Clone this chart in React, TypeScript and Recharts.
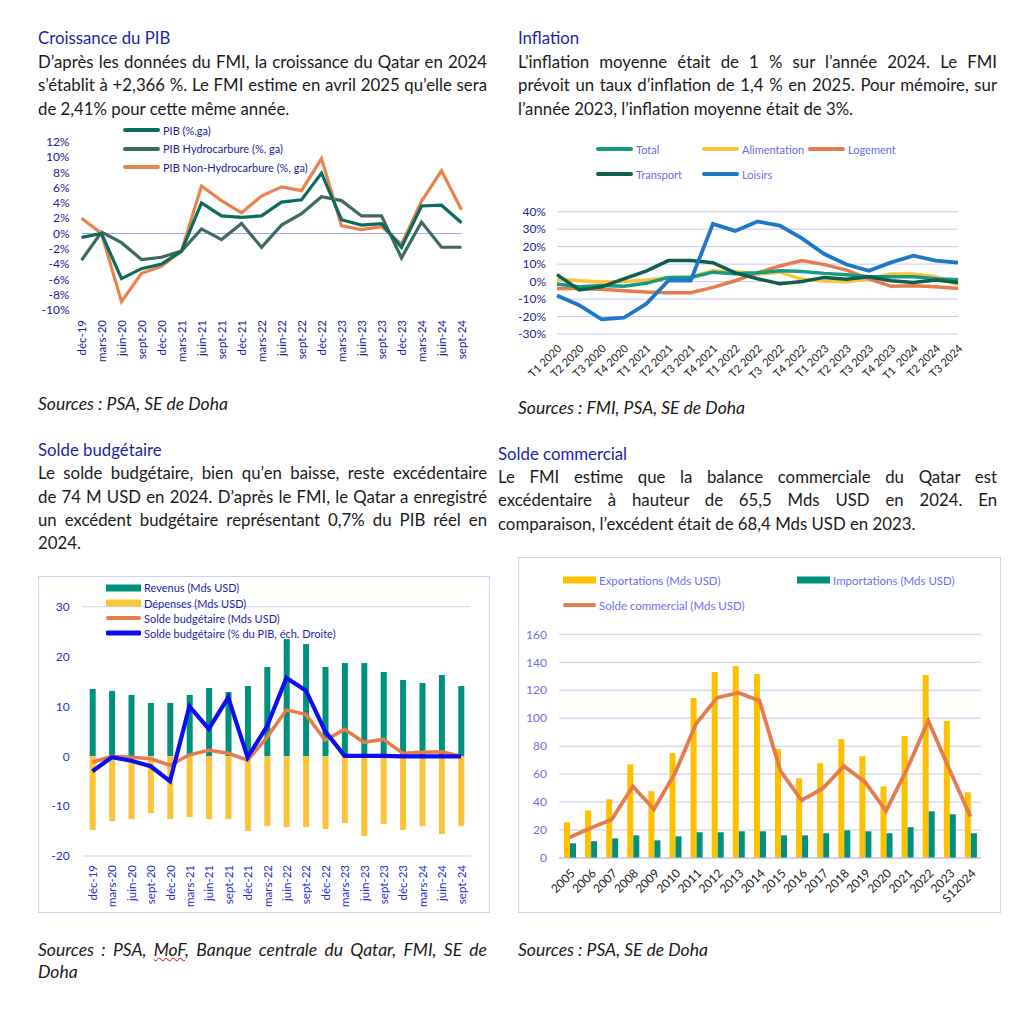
import React from 'react';
import { LineChart, Line, XAxis, YAxis, CartesianGrid, ReferenceLine, ComposedChart, Bar } from 'recharts';

const FONT = 'Lato, "Noto Sans", sans-serif';

// Croissance du PIB (% ga)
const pibQuarters = ['déc-19', 'mars-20', 'juin-20', 'sept-20', 'déc-20', 'mars-21', 'juin-21', 'sept-21', 'déc-21', 'mars-22', 'juin-22', 'sept-22', 'déc-22', 'mars-23', 'juin-23', 'sept-23', 'déc-23', 'mars-24', 'juin-24', 'sept-24'];
const pibTotal = [-0.5, 0, -5.9, -4.6, -4.0, -2.3, 4.0, 2.3, 2.1, 2.3, 4.1, 4.4, 7.9, 1.8, 1.1, 1.3, -1.8, 3.6, 3.7, 1.4];
const pibHydro = [-3.5, 0.2, -1.2, -3.4, -3.1, -2.3, 0.6, -0.8, 1.3, -1.8, 1.1, 2.6, 4.8, 4.3, 2.3, 2.3, -3.2, 1.5, -1.8, -1.8];
const pibNonHydro = [2.0, 0, -8.9, -5.2, -4.3, -2.3, 6.2, 4.3, 2.7, 4.9, 6.1, 5.6, 9.8, 1.0, 0.5, 0.9, -1.4, 4.2, 8.2, 3.1];
const pibTicks = [-10, -8, -6, -4, -2, 0, 2, 4, 6, 8, 10, 12];

// Inflation (% ga)
const inflQuarters = ['T1 2020', 'T2 2020', 'T3 2020', 'T4 2020', 'T1 2021', 'T2 2021', 'T3 2021', 'T4 2021', 'T1 2022', 'T2 2022', 'T3  2022', 'T4 2022', 'T1 2023', 'T2 2023', 'T3 2023', 'T4 2023', 'T1  2024', 'T2 2024', 'T3 2024'];
const inflTotal = [-1.4, -3, -2.2, -2.6, -1, 2.4, 2.4, 5.4, 4.5, 5, 6.2, 5.8, 4.7, 3.9, 2.8, 2.8, 2.8, 1.6, 1.1];
const inflAlim = [1.3, 0.5, -0.3, 0.1, 0.9, 2.2, 2.6, 6.2, 5.6, 4.3, 5.4, 1.3, 0.3, -0.1, 1.6, 4.3, 4.3, 2.8, -1.9];
const inflLogement = [-4, -4, -4.4, -5.2, -6, -6.4, -6.4, -3.3, 0.5, 5, 8.9, 12, 9.7, 6.6, 1.6, -2.7, -2.4, -3, -4];
const inflTransport = [4, -4.8, -3, 1.5, 6, 12, 12, 10.8, 5, 1.6, -1.2, 0.1, 2.4, 1.3, 2.8, 0.5, -0.5, 0.9, -0.5];
const inflLoisirs = [-8, -13.5, -21.6, -20.7, -12.8, 0.5, 0.5, 33, 29, 34.4, 32, 24.7, 15.8, 9.8, 6.2, 11, 14.8, 12, 10.8];
const inflTicks = [-30, -20, -10, 0, 10, 20, 30, 40];

// Solde budgétaire
const budgetQuarters = ['déc-19', 'mars-20', 'juin-20', 'sept-20', 'déc-20', 'mars-21', 'juin-21', 'sept-21', 'déc-21', 'mars-22', 'juin-22', 'sept-22', 'déc-22', 'mars-23', 'juin-23', 'sept-23', 'déc-23', 'mars-24', 'juin-24', 'sept-24'];
const revenus = [13.5, 13.1, 12.3, 10.7, 10.7, 12.3, 13.7, 12.9, 14.1, 17.9, 23.5, 22.5, 17.9, 18.7, 18.7, 16.9, 15.3, 14.7, 16.3, 14.1];
const depenses = [-14.8, -13, -12.6, -11.4, -12.6, -12.2, -12.6, -12.6, -15, -14, -14.2, -14.2, -14.6, -13.4, -16, -13.6, -14.8, -14, -15.6, -14];
const soldeMds = [-1.2, 0, -0.2, -0.5, -1.8, 0.3, 1.2, 0.6, -0.8, 3.8, 9.3, 8.4, 3.2, 5.4, 2.8, 3.4, 0.6, 0.8, 0.9, 0];
const soldePib = [-3, -0.2, -0.9, -2, -5, 10, 5.5, 11.8, -0.2, 6, 15.7, 13.2, 5, 0.1, 0.1, 0.1, 0, 0, 0, 0];
const budgetTicks = [-20, -10, 0, 10, 20, 30];

// Solde commercial
const tradeYears = ['2005', '2006', '2007', '2008', '2009', '2010', '2011', '2012', '2013', '2014', '2015', '2016', '2017', '2018', '2019', '2020', '2021', '2022', '2023', 'S12024'];
const exportations = [25.5, 34, 42, 67, 47.8, 75, 114.4, 133, 137.3, 131.6, 77.9, 57, 67.8, 85, 72.8, 51.3, 87.2, 130.9, 97.9, 47];
const importations = [10.5, 12, 14, 16.2, 12.6, 15.5, 18.4, 18.4, 19.1, 19.1, 16.2, 16.2, 17.7, 19.8, 19.1, 17.7, 22, 33.4, 31.3, 17.7];
const soldeCommercial = [14.6, 21.5, 27.5, 51.3, 34.9, 60.7, 96.2, 114.6, 118.2, 112.5, 62.1, 41.3, 49.7, 65.7, 54.4, 33.7, 63.8, 98.1, 63.5, 29.6];
const tradeTicks = [0, 20, 40, 60, 80, 100, 120, 140, 160];

const pibData = pibQuarters.map((q, i) => ({ q, total: pibTotal[i], hydro: pibHydro[i], nonHydro: pibNonHydro[i] }));
const inflData = inflQuarters.map((q, i) => ({
  q,
  total: inflTotal[i],
  alim: inflAlim[i],
  logement: inflLogement[i],
  transport: inflTransport[i],
  loisirs: inflLoisirs[i],
}));
const budgetData = budgetQuarters.map((q, i) => ({ q, revenus: revenus[i], depenses: depenses[i], soldeMds: soldeMds[i], soldePib: soldePib[i] }));
const tradeData = tradeYears.map((y, i) => ({ y, exp: exportations[i], imp: importations[i], solde: soldeCommercial[i] }));

const VerticalTick = (props: any) => {
  const { x, y, payload, fill, dy } = props;
  return (
    <text
      transform={`translate(${x},${y + dy}) rotate(-90)`}
      textAnchor="end"
      dominantBaseline="central"
      fontSize={11.5}
      fontFamily={FONT}
      fill={fill}
    >
      {payload.value}
    </text>
  );
};

const DiagonalTick = (props: any) => {
  const { x, y, payload, fill, dx, dy, fontSize } = props;
  return (
    <text
      transform={`translate(${x + dx},${y + dy}) rotate(-45)`}
      textAnchor="end"
      dominantBaseline="central"
      fontSize={fontSize}
      fontFamily={FONT}
      fill={fill}
      style={{ whiteSpace: 'pre' }}
    >
      {payload.value}
    </text>
  );
};

type LegendItem = { label: string; color: string; kind: 'line' | 'rect'; x: number; y: number; thick?: number };

function LegendOverlay({ items, textColor, swatch, fontSize }: { items: LegendItem[]; textColor: string; swatch: number; fontSize: number }) {
  return (
    <>
      {items.map((it) => (
        <div
          key={it.label}
          style={{
            position: 'absolute',
            left: it.x,
            top: it.y - 8,
            height: 16,
            display: 'flex',
            alignItems: 'center',
            fontSize,
            color: textColor,
            whiteSpace: 'nowrap',
            zIndex: 2,
          }}
        >
          <svg width={swatch} height={10} style={{ marginRight: 3 }}>
            {it.kind === 'line' ? (
              <line x1={2} y1={5} x2={swatch - 2} y2={5} stroke={it.color} strokeWidth={it.thick || 4} strokeLinecap="round" />
            ) : (
              <rect x={0} y={1.5} width={swatch} height={7} fill={it.color} />
            )}
          </svg>
          {it.label}
        </div>
      ))}
    </>
  );
}

function TextBlock({ left, top, width, title, lines, lineHeight }: { left: number; top: number; width: number; title: string; lines: React.ReactNode[]; lineHeight: number }) {
  return (
    <div style={{ position: 'absolute', left, top, width, fontSize: 16.8, lineHeight: `${lineHeight}px`, color: '#1a1a1a' }}>
      <div style={{ color: '#1f1fa3', fontSize: 16.8 }}>{title}</div>
      {lines.map((l, i) => (
        <div key={i} style={{ textAlign: 'justify', textAlignLast: i === lines.length - 1 ? 'left' : 'justify', whiteSpace: 'nowrap' }}>
          {l}
        </div>
      ))}
    </div>
  );
}

const sourceStyle: React.CSSProperties = { position: 'absolute', fontSize: 17.5, fontStyle: 'italic', color: '#1a1a1a', lineHeight: '22px' };

export default function App() {
  const navy = '#1f1f99';
  return (
    <div style={{ position: 'absolute', left: 0, top: 0, width: 1027, height: 1015, background: '#fff', fontFamily: FONT, overflow: 'hidden' }}>
      <TextBlock
        left={38}
        top={26}
        width={449}
        lineHeight={23.5}
        title="Croissance du PIB"
        lines={[
          'D’après les données du FMI, la croissance du Qatar en 2024',
          's’établit à +2,366 %. Le FMI estime en avril 2025 qu’elle sera',
          'de 2,41% pour cette même année.',
        ]}
      />
      <TextBlock
        left={518}
        top={26}
        width={479}
        lineHeight={23.5}
        title="Inflation"
        lines={[
          'L’inflation moyenne était de 1 % sur l’année 2024. Le FMI',
          'prévoit un taux d’inflation de 1,4 % en 2025. Pour mémoire, sur',
          'l’année 2023, l’inflation moyenne était de 3%.',
        ]}
      />
      <TextBlock
        left={38}
        top={438}
        width={449}
        lineHeight={23.3}
        title="Solde budgétaire"
        lines={[
          'Le solde budgétaire, bien qu’en baisse, reste excédentaire',
          'de 74 M USD en 2024. D’après le FMI, le Qatar a enregistré',
          'un excédent budgétaire représentant 0,7% du PIB réel en',
          '2024.',
        ]}
      />
      <TextBlock
        left={498}
        top={442}
        width={499}
        lineHeight={23.2}
        title="Solde commercial"
        lines={[
          'Le FMI estime que la balance commerciale du Qatar est',
          'excédentaire à hauteur de 65,5 Mds USD en 2024. En',
          'comparaison, l’excédent était de 68,4 Mds USD en 2023.',
        ]}
      />

      {/* Chart 1: PIB */}
      <div style={{ position: 'absolute', left: 30, top: 120 }}>
        <LineChart width={440} height={260} data={pibData} margin={{ top: 21.7, right: 8.5, bottom: 0, left: 0 }}>
          <XAxis dataKey="q" interval={0} height={70} axisLine={false} tickLine={false} tickSize={0} tickMargin={0} tick={<VerticalTick fill="#2020a0" dy={10} />} />
          <YAxis
            width={51.5}
            domain={[-10, 12]}
            ticks={pibTicks}
            interval={0}
            axisLine={false}
            tickLine={false}
            tickSize={0}
            tickMargin={12}
            tickFormatter={(v: number) => `${v}%`}
            tick={{ fill: '#2020a0', fontSize: 12, fontFamily: FONT }}
          />
          <ReferenceLine y={0} stroke="#a9a9e8" strokeWidth={1} />
          <Line dataKey="hydro" stroke="#3f6a5d" strokeWidth={3.2} dot={false} isAnimationActive={false} />
          <Line dataKey="nonHydro" stroke="#e8834f" strokeWidth={3.2} dot={false} isAnimationActive={false} />
          <Line dataKey="total" stroke="#0b6b5c" strokeWidth={3.2} dot={false} isAnimationActive={false} />
        </LineChart>
      </div>
      <LegendOverlay
        textColor="#1c1c99"
        swatch={37}
        fontSize={11}
        items={[
          { label: 'PIB (%,ga)', color: '#0b6b5c', kind: 'line', x: 123, y: 130 },
          { label: 'PIB Hydrocarbure (%, ga)', color: '#3f6a5d', kind: 'line', x: 123, y: 148.5 },
          { label: 'PIB Non-Hydrocarbure (%, ga)', color: '#e8834f', kind: 'line', x: 123, y: 167 },
        ]}
      />
      <div style={{ ...sourceStyle, left: 38, top: 393 }}>Sources : PSA, SE de Doha</div>

      {/* Chart 2: Inflation */}
      <div style={{ position: 'absolute', left: 500, top: 130 }}>
        <LineChart width={470} height={270} data={inflData} margin={{ top: 81.7, right: 12, bottom: 0, left: 0 }}>
          <CartesianGrid vertical={false} stroke="#c9c9f2" strokeWidth={1} />
          <XAxis dataKey="q" interval={0} height={66} axisLine={false} tickLine={false} tickSize={0} tickMargin={0} tick={<DiagonalTick fill="#222" dx={2} dy={12} fontSize={11} />} />
          <YAxis
            width={57}
            domain={[-30, 40]}
            ticks={inflTicks}
            interval={0}
            axisLine={false}
            tickLine={false}
            tickSize={0}
            tickMargin={11}
            tickFormatter={(v: number) => `${v}%`}
            tick={{ fill: navy, fontSize: 12, fontFamily: FONT }}
          />
          <Line dataKey="alim" stroke="#fbc43a" strokeWidth={3.5} dot={false} isAnimationActive={false} />
          <Line dataKey="logement" stroke="#e57c4c" strokeWidth={3.5} dot={false} isAnimationActive={false} />
          <Line dataKey="total" stroke="#169a82" strokeWidth={3.5} dot={false} isAnimationActive={false} />
          <Line dataKey="transport" stroke="#0f5e4f" strokeWidth={3.5} dot={false} isAnimationActive={false} />
          <Line dataKey="loisirs" stroke="#1f78c6" strokeWidth={3.8} dot={false} isAnimationActive={false} />
        </LineChart>
      </div>
      <LegendOverlay
        textColor="#6c6ce6"
        swatch={37}
        fontSize={11}
        items={[
          { label: 'Total', color: '#169a82', kind: 'line', x: 596, y: 149 },
          { label: 'Alimentation', color: '#fbc43a', kind: 'line', x: 702, y: 149 },
          { label: 'Logement', color: '#e57c4c', kind: 'line', x: 808, y: 149 },
          { label: 'Transport', color: '#0f5e4f', kind: 'line', x: 596, y: 174 },
          { label: 'Loisirs', color: '#1f78c6', kind: 'line', x: 702, y: 174 },
        ]}
      />
      <div style={{ ...sourceStyle, left: 518, top: 397 }}>Sources : FMI, PSA, SE de Doha</div>

      {/* Chart 3: Solde budgétaire */}
      <div style={{ position: 'absolute', left: 38, top: 576, width: 450, height: 335, border: '1px solid #cfcff3' }} />
      <div style={{ position: 'absolute', left: 38, top: 576 }}>
        <ComposedChart width={452} height={337} data={budgetData} stackOffset="sign" barSize={6} margin={{ top: 30.7, right: 19.3, bottom: 0, left: 0 }}>
          <CartesianGrid vertical={false} stroke="#d0d0f5" strokeWidth={1} />
          <XAxis dataKey="q" interval={0} height={57} axisLine={false} tickLine={false} tickSize={0} tickMargin={0} tick={<VerticalTick fill="#2b2bd6" dy={9} />} />
          <YAxis
            yAxisId="left"
            width={44.7}
            domain={[-20, 30]}
            ticks={budgetTicks}
            interval={0}
            axisLine={false}
            tickLine={false}
            tickSize={0}
            tickMargin={13}
            tick={{ fill: '#2b2bd6', fontSize: 12, fontFamily: FONT }}
          />
          <YAxis yAxisId="right" orientation="right" hide domain={[-20, 30]} />
          <Bar yAxisId="left" dataKey="revenus" stackId="b" fill="#00917d" isAnimationActive={false} />
          <Bar yAxisId="left" dataKey="depenses" stackId="b" fill="#fbc43a" isAnimationActive={false} />
          <Line yAxisId="left" dataKey="soldeMds" stroke="#e57c4c" strokeWidth={3.5} dot={false} isAnimationActive={false} />
          <Line yAxisId="right" dataKey="soldePib" stroke="#0d0df2" strokeWidth={4.2} dot={false} isAnimationActive={false} />
        </ComposedChart>
      </div>
      <LegendOverlay
        textColor="#1e1ea8"
        swatch={35}
        fontSize={11}
        items={[
          { label: 'Revenus (Mds USD)', color: '#00917d', kind: 'rect', x: 106, y: 587.7 },
          { label: 'Dépenses (Mds USD)', color: '#fbc43a', kind: 'rect', x: 106, y: 603 },
          { label: 'Solde budgétaire (Mds USD)', color: '#e57c4c', kind: 'line', x: 106, y: 618.3 },
          { label: 'Solde budgétaire (% du PIB, éch. Droite)', color: '#0d0df2', kind: 'line', x: 106, y: 633.3, thick: 5 },
        ]}
      />
      <div style={{ ...sourceStyle, left: 38, top: 939, width: 449 }}>
        <div style={{ textAlign: 'justify', textAlignLast: 'justify', whiteSpace: 'nowrap' }}>
          Sources : PSA, <span style={{ textDecoration: 'underline wavy #e00000', textDecorationThickness: 1 }}>MoF</span>, Banque centrale du Qatar, FMI, SE de
        </div>
        <div>Doha</div>
      </div>

      {/* Chart 4: Solde commercial */}
      <div style={{ position: 'absolute', left: 518, top: 557, width: 481, height: 354, border: '1px solid #cfcff3' }} />
      <div style={{ position: 'absolute', left: 518, top: 558 }}>
        <ComposedChart width={482} height={355} data={tradeData} barSize={6} barGap={0} margin={{ top: 76.3, right: 19, bottom: 0, left: 0 }}>
          <CartesianGrid vertical={false} stroke="#c9c9f2" strokeWidth={1} />
          <XAxis dataKey="y" interval={0} height={55} axisLine={{ stroke: '#c0c0ee' }} tickLine={false} tickSize={0} tickMargin={0} tick={<DiagonalTick fill="#222" dx={3} dy={13} fontSize={12} />} />
          <YAxis
            width={41}
            domain={[0, 160]}
            ticks={tradeTicks}
            interval={0}
            axisLine={false}
            tickLine={false}
            tickSize={0}
            tickMargin={12}
            tick={{ fill: '#6e6ef0', fontSize: 12, fontFamily: FONT }}
          />
          <Bar dataKey="exp" fill="#ffc000" isAnimationActive={false} />
          <Bar dataKey="imp" fill="#00917d" isAnimationActive={false} />
          <Line dataKey="solde" stroke="#e57c4c" strokeWidth={3.8} dot={false} isAnimationActive={false} />
        </ComposedChart>
      </div>
      <LegendOverlay
        textColor="#6e6ef0"
        swatch={33}
        fontSize={11.5}
        items={[
          { label: 'Exportations (Mds USD)', color: '#ffc000', kind: 'rect', x: 563, y: 580 },
          { label: 'Importations (Mds USD)', color: '#00917d', kind: 'rect', x: 797, y: 580 },
          { label: 'Solde commercial (Mds USD)', color: '#e57c4c', kind: 'line', x: 563, y: 605 },
        ]}
      />
      <div style={{ ...sourceStyle, left: 518, top: 939 }}>Sources : PSA, SE de Doha</div>
    </div>
  );
}
